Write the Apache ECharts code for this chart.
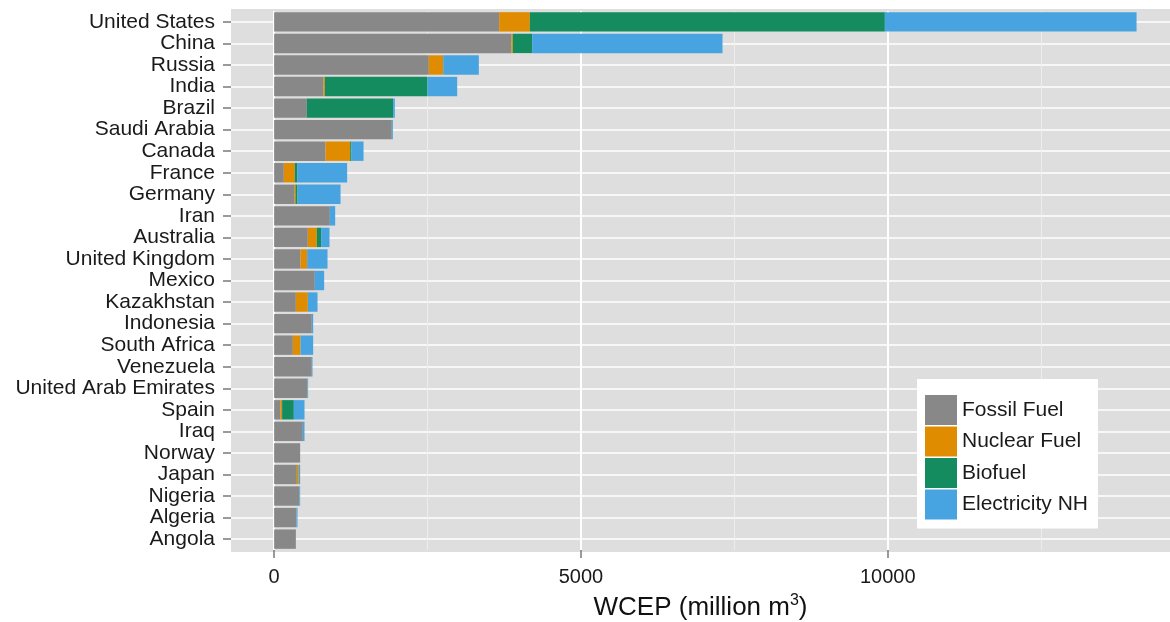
<!DOCTYPE html>
<html><head><meta charset="utf-8">
<script src="https://cdn.jsdelivr.net/npm/echarts@6/dist/echarts.min.js"></script>
<style>html,body{margin:0;padding:0;background:#fff}#c{width:1170px;height:622px}</style>
</head><body><div id="c"></div>
<script>
const countries = ['United States','China','Russia','India','Brazil','Saudi Arabia','Canada','France','Germany','Iran','Australia','United Kingdom','Mexico','Kazakhstan','Indonesia','South Africa','Venezuela','United Arab Emirates','Spain','Iraq','Norway','Japan','Nigeria','Algeria','Angola'];
const fossil      = [3667,3868,2521, 805, 533,1918, 837, 158, 326, 908, 549, 430, 663, 354, 614, 305, 614, 544, 104, 468, 424, 370, 413, 364, 354];
const nuclear     = [ 500,  22, 234,  21,   0,   0, 402, 179,  22,   0, 147, 108,   0, 195,   0, 125,   0,   0,  26,   0,   0,  32,   0,   0,   0];
const biofuel     = [5786, 315,   0,1674,1407,   0,  22,  38,  33,   0,  70,   0,   0,   0,   0,   0,   0,   0, 191,   0,   0,   0,   0,   0,   0];
const electricity = [4102,3102, 581, 483,  27,  17, 196, 815, 701,  87, 136, 332, 152, 158,  22, 206,  11,  10, 174,  27,   0,  22,  11,  17,   0];
const seriesNames = ['Fossil Fuel','Nuclear Fuel','Biofuel','Electricity NH'];
const xTicks = [0, 5000, 10000];
const xMinorLines = [2500, 7500, 12500];
const xMin = -703, xMax = 14600;

const colors = ['#888888','#E08C00','#148C5F','#48A3E1'];
const seriesData = [fossil, nuclear, biofuel, electricity];
const font = 'Liberation Sans, Arial, Helvetica, sans-serif';

const chart = echarts.init(document.getElementById('c'), null, {renderer: 'canvas'});
const series = seriesNames.map((n, i) => {
  const s = {
    name: n, type: 'bar', stack: 'total', data: seriesData[i],
    barWidth: '90%', itemStyle: {color: colors[i]}, emphasis: {disabled: true},
    animation: false
  };
  if (i === 0) {
    s.markLine = {
      silent: true, symbol: 'none', z: 1, animation: false,
      label: {show: false},
      lineStyle: {color: '#EDEDED', width: 1, type: 'solid'},
      data: xMinorLines.map(v => ({xAxis: v}))
    };
  }
  return s;
});

chart.setOption({
  animation: false,
  color: colors,
  graphic: [{
    type: 'rect', z: -10, silent: true,
    shape: {x: 231, y: 9, width: 940, height: 543},
    style: {fill: '#DEDEDE'}
  }],
  grid: {left: 231, right: 0, top: 11.1, height: 538.8, containLabel: false, outerBoundsMode: 'none'},
  legend: {
    orient: 'vertical', left: 917, top: 379,
    backgroundColor: '#ffffff', padding: [16, 10, 9, 8],
    itemWidth: 32, itemHeight: 30, itemGap: 1.5, icon: 'rect',
    textStyle: {fontFamily: font, fontSize: 21, color: '#1a1a1a'},
    data: seriesNames
  },
  xAxis: {
    type: 'value', min: xMin, max: xMax,
    axisLine: {show: false, onZero: false},
    axisTick: {show: true, customValues: xTicks, length: 8, lineStyle: {color: '#7a7a7a', width: 1.5}},
    axisLabel: {customValues: xTicks, margin: 18, fontFamily: font, fontSize: 20, color: '#1a1a1a',
      formatter: v => String(v)},
    splitLine: {show: true, customValues: xTicks, lineStyle: {color: '#ffffff', width: 2}},
    name: 'WCEP (million m{sup|3})', nameLocation: 'middle', nameGap: 42,
    nameTextStyle: {fontFamily: font, fontSize: 26, color: '#111',
      rich: {sup: {fontFamily: font, fontSize: 16, color: '#111', verticalAlign: 'top', padding: [0, 0, 14, 0]}}}
  },
  yAxis: {
    type: 'category', data: countries, inverse: true,
    axisLine: {show: false, onZero: false},
    axisTick: {show: true, alignWithLabel: true, length: 8, lineStyle: {color: '#7a7a7a', width: 1.5}},
    axisLabel: {margin: 16, fontFamily: font, fontSize: 21, color: '#1a1a1a', interval: 0},
    splitLine: {show: true, alignWithLabel: true, interval: 0, lineStyle: {color: '#ffffff', width: 1.5}}
  },
  series: series
});
</script></body></html>
